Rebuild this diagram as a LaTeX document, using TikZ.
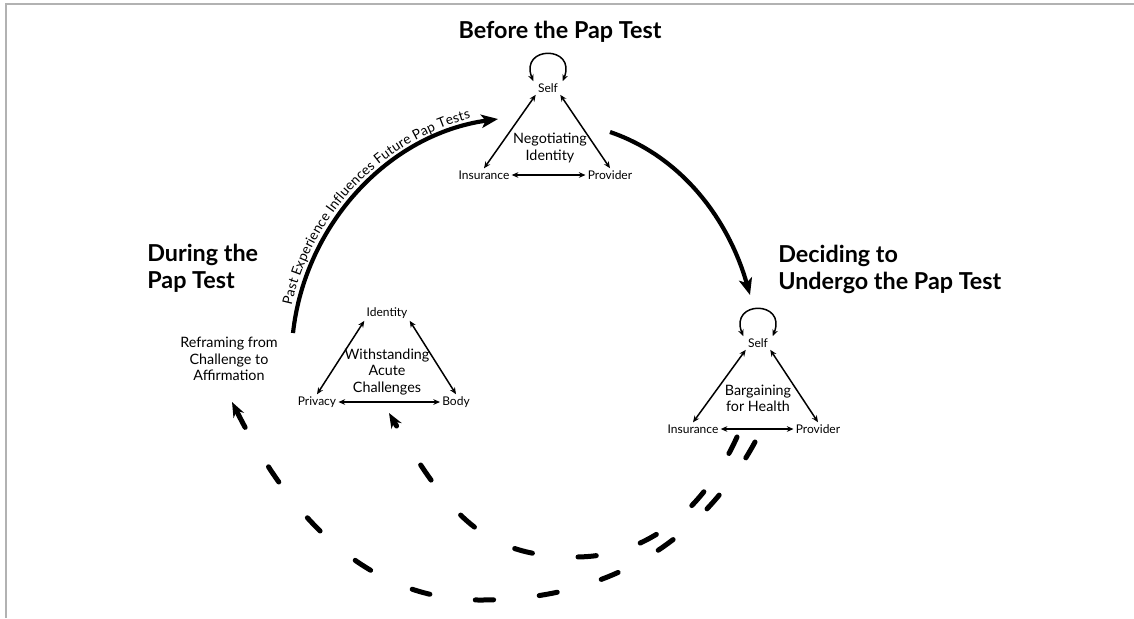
\documentclass[tikz,border=0pt]{standalone}
\usepackage{fontspec}
\setmainfont{Lato}
\usetikzlibrary{arrows.meta,decorations.text}

\tikzset{
  phase/.style={font=\bfseries\fontsize{14}{16.2}\selectfont, align=left, inner sep=0pt},
  concept/.style={font=\fontsize{8.6}{9.8}\selectfont, align=center, inner sep=0pt},
  actor/.style={font=\fontsize{7.2}{8}\selectfont, inner sep=1.2pt},
  link/.style={{Stealth[length=4pt,width=3.4pt]}-{Stealth[length=4pt,width=3.4pt]}, line width=0.9pt},
  cycle/.style={line width=2.5pt, -{Stealth[length=10pt,width=8pt,inset=2.5pt]}},
  back/.style={line width=3pt, line cap=round, dash pattern=on 11pt off 27.5pt, -{Stealth[length=9pt,width=7pt,inset=3pt]}}
}

\begin{document}
\begin{tikzpicture}[x=0.6pt,y=-0.6pt]
\useasboundingbox (0,0) rectangle (1134,618);
\draw[gray!60, line width=1pt] (6,618) -- (6,4) -- (1134,4);

% before the test
\node[phase] (before) at (560,32) {Before the Pap Test};
\node[actor] (self1) at (548,88) {Self};
\node[actor] (ins1) at (484,175) {Insurance};
\node[actor] (prov1) at (610,175) {Provider};
\node[concept] (neg) at (550,148) {Negotiating\\Identity};
\draw[link] ([xshift=-1.5pt]self1.north west) .. controls +(-14,-36) and +(14,-36) .. ([xshift=1.5pt]self1.north east);
\draw[link] (self1.south west) -- (ins1.north);
\draw[link] (self1.south east) -- (prov1.north);
\draw[link] (ins1) -- (prov1);

% deciding
\node[phase, anchor=west] (decide) at (778,269) {Deciding to\\Undergo the Pap Test};
\node[actor] (self2) at (758,343) {Self};
\node[actor] (ins2) at (693,429) {Insurance};
\node[actor] (prov2) at (818,429) {Provider};
\node[concept] (barg) at (758,398) {Bargaining\\for Health};
\draw[link] ([xshift=-1.5pt]self2.north west) .. controls +(-14,-36) and +(14,-36) .. ([xshift=1.5pt]self2.north east);
\draw[link] (self2.south west) -- (ins2.north);
\draw[link] (self2.south east) -- (prov2.north);
\draw[link] (ins2) -- (prov2);

% during the test
\node[phase, anchor=west] (during) at (147,268) {During the\\Pap Test};
\node[concept] (refr) at (229,359) {Reframing from\\Challenge to\\Affirmation};
\node[actor] (ident) at (387,313) {Identity};
\node[actor] (priv) at (317,402) {Privacy};
\node[actor] (body) at (456,402) {Body};
\node[concept] (withs) at (387,372) {Withstanding\\Acute\\Challenges};
\draw[link] (ident.south west) -- (priv.north);
\draw[link] (ident.south east) -- (body.north);
\draw[link] (priv) -- (body);

% cycle
\coordinate (pastS) at (293,333);
\coordinate (pastE) at (498,119);
\draw[cycle] (pastS) .. controls (305,224) and (389,134) .. (pastE);
\path[decorate, decoration={text along path, text align=center, raise=3.5pt,
  text={|\fontsize{8.2}{9}\selectfont|Past Experience Influences Future Pap Tests}}]
  (pastS) .. controls (305,224) and (389,134) .. (pastE);
\coordinate (decS) at (610,132);
\coordinate (decE) at (750,295);
\draw[cycle] (decS) .. controls (683,157) and (729,221) .. (decE);

% feedback
\coordinate (outS) at (755,442);
\coordinate (outB) at (480,600);
\coordinate (outE) at (232,402);
\draw[back] (outS) .. controls (712,521) and (630,600) .. (outB) .. controls (350,600) and (277,491) .. (outE);
\coordinate (inS) at (737,437);
\coordinate (inB) at (575,557);
\coordinate (inE) at (389,413);
\draw[back] (inS) .. controls (708,501) and (655,557) .. (inB) .. controls (485,557) and (449,516) .. (inE);
\end{tikzpicture}
\end{document}
